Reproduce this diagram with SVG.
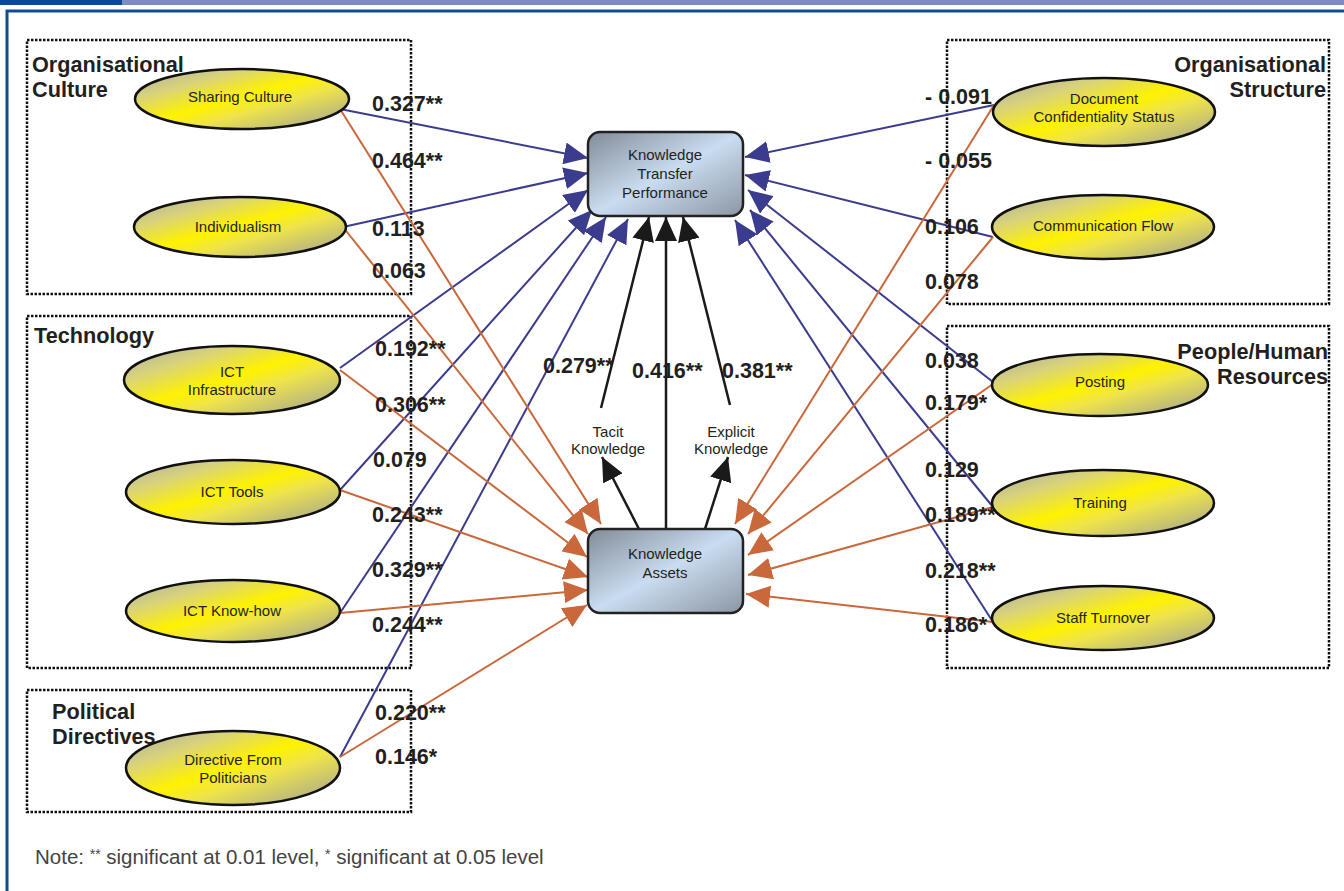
<svg xmlns="http://www.w3.org/2000/svg" width="1344" height="891" viewBox="0 0 1344 891">
<style>
.grp{fill:none;stroke:#111;stroke-width:2.5;stroke-dasharray:2.5 1.5}
.title{font-family:"Liberation Sans",Arial,sans-serif;font-weight:bold;font-size:21.7px;fill:#231f20}
.ell{fill:url(#yg);stroke:#111;stroke-width:2.5}
.et{font-family:"Liberation Sans",Arial,sans-serif;font-size:15px;fill:#231f20;text-anchor:middle}
.box{fill:url(#bg);stroke:#222;stroke-width:2.5}
.coef{font-family:"Liberation Sans",Arial,sans-serif;font-weight:bold;font-size:21.5px;fill:#231f20}
.blue{stroke:#3c3c8e;stroke-width:2;fill:none;marker-end:url(#ab)}
.orange{stroke:#c9683a;stroke-width:2;fill:none;marker-end:url(#ao)}
.blackA{stroke:#1a1a1a;stroke-width:2.5;fill:none;marker-end:url(#ak)}
</style>
<defs>
<linearGradient id="yg" x1="0" y1="0" x2="1" y2="1">
<stop offset="0" stop-color="#a9aaa6"/>
<stop offset="0.25" stop-color="#d9d37a"/>
<stop offset="0.48" stop-color="#fff200"/>
<stop offset="0.62" stop-color="#efe44a"/>
<stop offset="1" stop-color="#9c9d9c"/>
</linearGradient>
<linearGradient id="bg" x1="0" y1="0" x2="1" y2="1">
<stop offset="0" stop-color="#828b98"/>
<stop offset="0.5" stop-color="#c9dcf0"/>
<stop offset="1" stop-color="#8c96a4"/>
</linearGradient>
<marker id="ab" viewBox="0 0 24 22" refX="24" refY="11" markerWidth="24" markerHeight="22" markerUnits="userSpaceOnUse" orient="auto"><path d="M0,0 L24,11 L0,22 z" fill="#3c3c8e"/></marker>
<marker id="ao" viewBox="0 0 24 22" refX="24" refY="11" markerWidth="24" markerHeight="22" markerUnits="userSpaceOnUse" orient="auto"><path d="M0,0 L24,11 L0,22 z" fill="#c9683a"/></marker>
<marker id="ak" viewBox="0 0 24 22" refX="24" refY="11" markerWidth="24" markerHeight="22" markerUnits="userSpaceOnUse" orient="auto"><path d="M0,0 L24,11 L0,22 z" fill="#1a1a1a"/></marker>
</defs>
<rect width="1344" height="891" fill="#fff"/>
<g id="frame">
<rect x="0" y="0" width="122" height="5" fill="#0d4a94"/>
<rect x="122" y="0" width="1222" height="5" fill="#7d8cc2"/>
<rect x="7" y="11" width="1360" height="900" fill="none" stroke="#0d4d96" stroke-width="3"/>
</g>
<g id="groups">
<rect class="grp" x="27" y="40" width="384" height="254"/>
<rect class="grp" x="27" y="316" width="384" height="352"/>
<rect class="grp" x="27" y="690" width="384" height="122"/>
<rect class="grp" x="947" y="40" width="382" height="264"/>
<rect class="grp" x="947" y="326" width="382" height="342"/>
<text class="title" x="32" y="72">Organisational</text>
<text class="title" x="32" y="97">Culture</text>
<text class="title" x="34" y="343">Technology</text>
<text class="title" x="52" y="719">Political</text>
<text class="title" x="52" y="744">Directives</text>
<text class="title" x="1326" y="72" text-anchor="end">Organisational</text>
<text class="title" x="1326" y="97" text-anchor="end">Structure</text>
<text class="title" x="1328" y="359" text-anchor="end">People/Human</text>
<text class="title" x="1328" y="384" text-anchor="end">Resources</text>
</g>
<g id="connectors">
<line class="blue" x1="340" y1="109" x2="588" y2="158"/>
<line class="blue" x1="343" y1="227" x2="588" y2="173"/>
<line class="blue" x1="340" y1="368" x2="588" y2="190"/>
<line class="blue" x1="340" y1="490" x2="592" y2="210"/>
<line class="blue" x1="340" y1="613" x2="606" y2="217"/>
<line class="blue" x1="340" y1="757" x2="628" y2="219"/>
<line class="blue" x1="994" y1="105" x2="745" y2="157"/>
<line class="blue" x1="993" y1="237" x2="745" y2="175"/>
<line class="blue" x1="993" y1="382" x2="748" y2="190"/>
<line class="blue" x1="993" y1="507" x2="750" y2="210"/>
<line class="blue" x1="993" y1="622" x2="735" y2="220"/>
<line class="orange" x1="340" y1="109" x2="601" y2="524"/>
<line class="orange" x1="343" y1="227" x2="588" y2="534"/>
<line class="orange" x1="340" y1="370" x2="587" y2="557"/>
<line class="orange" x1="340" y1="490" x2="588" y2="577"/>
<line class="orange" x1="340" y1="613" x2="588" y2="590"/>
<line class="orange" x1="340" y1="757" x2="587" y2="605"/>
<line class="orange" x1="994" y1="105" x2="735" y2="524"/>
<line class="orange" x1="993" y1="237" x2="748" y2="534"/>
<line class="orange" x1="993" y1="384" x2="748" y2="555"/>
<line class="orange" x1="993" y1="507" x2="748" y2="575"/>
<line class="orange" x1="993" y1="622" x2="746" y2="594"/>
<line class="blackA" x1="666" y1="529" x2="666" y2="217"/>
<line class="blackA" x1="601" y1="408" x2="649" y2="217"/>
<line class="blackA" x1="730" y1="405" x2="683" y2="217"/>
<line class="blackA" x1="639" y1="529" x2="602" y2="457"/>
<line class="blackA" x1="705" y1="529" x2="728" y2="457"/>
</g>
<g id="labels">
<text class="et" x="608" y="437">Tacit</text>
<text class="et" x="608" y="454">Knowledge</text>
<text class="et" x="731" y="437">Explicit</text>
<text class="et" x="731" y="454">Knowledge</text>
<text class="coef" x="543" y="373">0.279**</text>
<text class="coef" x="632" y="378">0.416**</text>
<text class="coef" x="722" y="378">0.381**</text>
<text class="coef" x="372" y="111">0.327**</text>
<text class="coef" x="372" y="168">0.464**</text>
<text class="coef" x="372" y="236">0.113</text>
<text class="coef" x="372" y="278">0.063</text>
<text class="coef" x="375" y="356">0.192**</text>
<text class="coef" x="375" y="412">0.306**</text>
<text class="coef" x="373" y="467">0.079</text>
<text class="coef" x="372" y="522">0.243**</text>
<text class="coef" x="372" y="577">0.329**</text>
<text class="coef" x="372" y="632">0.244**</text>
<text class="coef" x="375" y="720">0.220**</text>
<text class="coef" x="375" y="764">0.146*</text>
<text class="coef" x="925" y="104">- 0.091</text>
<text class="coef" x="925" y="168">- 0.055</text>
<text class="coef" x="925" y="234">0.106</text>
<text class="coef" x="925" y="289">0.078</text>
<text class="coef" x="925" y="368">0.038</text>
<text class="coef" x="925" y="410">0.179*</text>
<text class="coef" x="925" y="477">0.129</text>
<text class="coef" x="925" y="522">0.189**</text>
<text class="coef" x="925" y="578">0.218**</text>
<text class="coef" x="925" y="632">0.186*</text>
</g>
<g id="ktp"><rect class="box" x="588" y="132" width="155" height="84" rx="12"/>
<text class="et" x="665" y="160">Knowledge</text><text class="et" x="665" y="179">Transfer</text><text class="et" x="665" y="198">Performance</text></g>
<g id="ka"><rect class="box" x="588" y="529" width="155" height="84" rx="12"/>
<text class="et" x="665" y="559">Knowledge</text><text class="et" x="665" y="578">Assets</text></g>
<g id="sharing"><ellipse class="ell" cx="242" cy="99" rx="107" ry="30"/><text class="et" x="240" y="102">Sharing Culture</text></g>
<g id="individualism"><ellipse class="ell" cx="240" cy="227" rx="106" ry="30"/><text class="et" x="238" y="232">Individualism</text></g>
<g id="ictinfra"><ellipse class="ell" cx="232" cy="380" rx="108" ry="34"/><text class="et" x="232" y="377">ICT</text><text class="et" x="232" y="395">Infrastructure</text></g>
<g id="icttools"><ellipse class="ell" cx="233" cy="492" rx="107" ry="32"/><text class="et" x="232" y="497">ICT Tools</text></g>
<g id="ictknow"><ellipse class="ell" cx="233" cy="611" rx="107" ry="31"/><text class="et" x="232" y="616">ICT Know-how</text></g>
<g id="directive"><ellipse class="ell" cx="233" cy="768" rx="107" ry="37"/><text class="et" x="233" y="765">Directive From</text><text class="et" x="233" y="783">Politicians</text></g>
<g id="docconf"><ellipse class="ell" cx="1104" cy="112" rx="111" ry="34"/><text class="et" x="1104" y="104">Document</text><text class="et" x="1104" y="122">Confidentiality Status</text></g>
<g id="commflow"><ellipse class="ell" cx="1103" cy="227" rx="111" ry="32"/><text class="et" x="1103" y="231">Communication Flow</text></g>
<g id="posting"><ellipse class="ell" cx="1100" cy="385" rx="108" ry="31"/><text class="et" x="1100" y="387">Posting</text></g>
<g id="training"><ellipse class="ell" cx="1103" cy="503" rx="111" ry="33"/><text class="et" x="1100" y="508">Training</text></g>
<g id="turnover"><ellipse class="ell" cx="1103" cy="618" rx="111" ry="32"/><text class="et" x="1103" y="623">Staff Turnover</text></g>
<text x="35" y="864" font-family="'Liberation Sans',Arial,sans-serif" font-size="20.5" fill="#444">Note: <tspan font-size="14" dy="-5">**</tspan><tspan dy="5"> significant at 0.01 level, </tspan><tspan font-size="14" dy="-5">*</tspan><tspan dy="5"> significant at 0.05 level</tspan></text>
</svg>
